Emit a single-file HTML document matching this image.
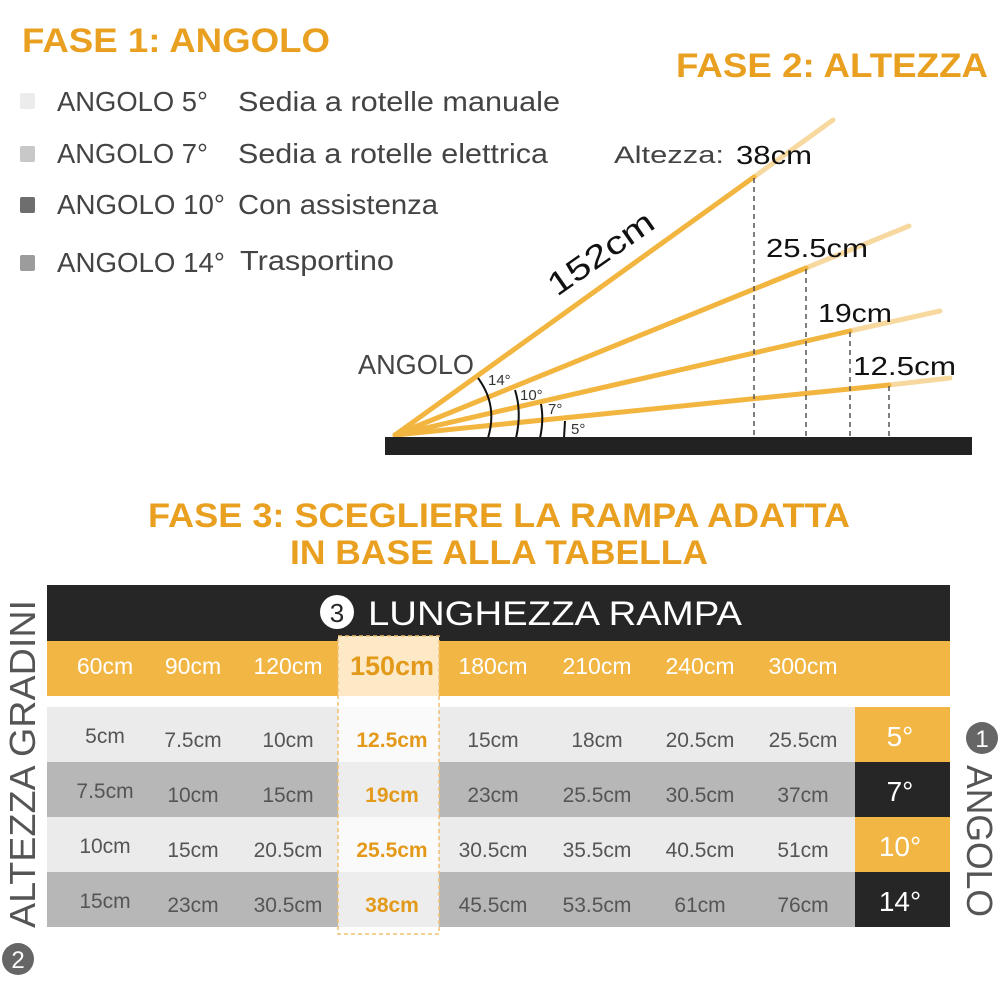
<!DOCTYPE html>
<html><head><meta charset="utf-8"><style>body{margin:0;background:#fff}svg{display:block}</style></head><body>
<svg width="1000" height="1000" viewBox="0 0 1000 1000" xmlns="http://www.w3.org/2000/svg" font-family="Liberation Sans, sans-serif">
<rect width="1000" height="1000" fill="#fff"/>
<g fill="#e9a020" font-weight="bold" font-size="34">
<text x="22" y="52" textLength="308" lengthAdjust="spacingAndGlyphs">FASE 1: ANGOLO</text>
<text x="676" y="77" textLength="312" lengthAdjust="spacingAndGlyphs">FASE 2: ALTEZZA</text>
<text x="148" y="527" textLength="702" lengthAdjust="spacingAndGlyphs">FASE 3: SCEGLIERE LA RAMPA ADATTA</text>
<text x="290" y="564" textLength="418" lengthAdjust="spacingAndGlyphs">IN BASE ALLA TABELLA</text>
</g>
<rect x="20" y="93" width="15" height="16" rx="2" fill="#ececec"/>
<rect x="20" y="146" width="15" height="16" rx="2" fill="#c8c8c8"/>
<rect x="20" y="197" width="15" height="16" rx="2" fill="#6e6e6e"/>
<rect x="20" y="255" width="15" height="16" rx="2" fill="#9c9c9c"/>
<g fill="#444" font-size="28">
<text x="57" y="111" textLength="151" lengthAdjust="spacingAndGlyphs">ANGOLO 5°</text>
<text x="238" y="111" textLength="322" lengthAdjust="spacingAndGlyphs">Sedia a rotelle manuale</text>
<text x="57" y="163" textLength="151" lengthAdjust="spacingAndGlyphs">ANGOLO 7°</text>
<text x="238" y="163" textLength="310" lengthAdjust="spacingAndGlyphs">Sedia a rotelle elettrica</text>
<text x="57" y="214" textLength="168" lengthAdjust="spacingAndGlyphs">ANGOLO 10°</text>
<text x="238" y="214" textLength="200" lengthAdjust="spacingAndGlyphs">Con assistenza</text>
<text x="57" y="272" textLength="168" lengthAdjust="spacingAndGlyphs">ANGOLO 14°</text>
<text x="240" y="270" textLength="154" lengthAdjust="spacingAndGlyphs">Trasportino</text>
<text x="358" y="374" textLength="116" lengthAdjust="spacingAndGlyphs">ANGOLO</text>
<text x="614" y="163" font-size="24" textLength="110" lengthAdjust="spacingAndGlyphs">Altezza:</text>
</g>
<!-- ramp lines -->
<g stroke-linecap="round" stroke-width="5">
<line x1="754" y1="177" x2="833" y2="120" stroke="#f7d9a0"/>
<line x1="806" y1="268" x2="909" y2="226" stroke="#f7d9a0"/>
<line x1="850" y1="331" x2="940" y2="311" stroke="#f7d9a0"/>
<line x1="889" y1="385" x2="950" y2="378" stroke="#f7d9a0"/>
<line x1="395" y1="435" x2="754" y2="177" stroke="#f2b53f"/>
<line x1="395" y1="435" x2="806" y2="268" stroke="#f2b53f"/>
<line x1="395" y1="435" x2="850" y2="331" stroke="#f2b53f"/>
<line x1="395" y1="435" x2="889" y2="385" stroke="#f2b53f"/>
</g>
<g stroke="#555" stroke-width="1.5" stroke-dasharray="5,4">
<line x1="754" y1="178" x2="754" y2="437"/>
<line x1="806" y1="269" x2="806" y2="437"/>
<line x1="850" y1="332" x2="850" y2="437"/>
<line x1="889" y1="386" x2="889" y2="437"/>
</g>
<g stroke="#111" stroke-width="2" fill="none">
<path d="M478 378 Q498 405 488 438"/>
<path d="M515 390 Q522 412 516 438"/>
<path d="M541 404 Q544 420 540 438"/>
<path d="M565 421 L564 438"/>
</g>
<g fill="#333" font-size="15">
<text x="488" y="385">14°</text>
<text x="520" y="400">10°</text>
<text x="548" y="414">7°</text>
<text x="571" y="434">5°</text>
</g>
<rect x="385" y="437" width="587" height="18" fill="#222"/>
<g fill="#111" font-size="26">
<text x="736" y="164" textLength="76" lengthAdjust="spacingAndGlyphs">38cm</text>
<text x="766" y="257" textLength="102" lengthAdjust="spacingAndGlyphs">25.5cm</text>
<text x="818" y="322" textLength="74" lengthAdjust="spacingAndGlyphs">19cm</text>
<text x="853" y="375" textLength="103" lengthAdjust="spacingAndGlyphs">12.5cm</text>
<text transform="translate(557,297) rotate(-35)" font-size="32" textLength="122" lengthAdjust="spacingAndGlyphs">152cm</text>
</g>
<!-- table -->
<rect x="47" y="585" width="903" height="56" fill="#262626"/>
<circle cx="337" cy="612" r="17" fill="#fff"/>
<text x="337" y="622" font-size="26" fill="#262626" text-anchor="middle">3</text>
<text x="368" y="625" font-size="34" fill="#fff" textLength="374" lengthAdjust="spacingAndGlyphs">LUNGHEZZA RAMPA</text>
<rect x="47" y="641" width="903" height="55" fill="#f2b644"/>
<rect x="47" y="707" width="808" height="55" fill="#ebebeb"/>
<rect x="47" y="762" width="808" height="55" fill="#b7b7b7"/>
<rect x="47" y="817" width="808" height="55" fill="#ebebeb"/>
<rect x="47" y="872" width="808" height="55" fill="#b7b7b7"/>
<rect x="855" y="707" width="95" height="55" fill="#f2b644"/>
<rect x="855" y="762" width="95" height="55" fill="#262626"/>
<rect x="855" y="817" width="95" height="55" fill="#f2b644"/>
<rect x="855" y="872" width="95" height="55" fill="#262626"/>
<rect x="338" y="636" width="101" height="60" fill="#fde9c6"/>
<rect x="338" y="707" width="101" height="220" fill="#fff" opacity="0.75"/>
<rect x="338" y="636" width="101" height="298" fill="none" stroke="#f0c070" stroke-width="1.5" stroke-dasharray="4,3"/>
<g fill="#fff" font-size="23" text-anchor="middle">
<text x="105" y="674">60cm</text><text x="193" y="674">90cm</text><text x="288" y="674">120cm</text>
<text x="493" y="674">180cm</text><text x="597" y="674">210cm</text><text x="700" y="674">240cm</text><text x="803" y="674">300cm</text>
<text x="900" y="746" font-size="28">5°</text><text x="900" y="801" font-size="28">7°</text>
<text x="900" y="856" font-size="28">10°</text><text x="900" y="911" font-size="28">14°</text>
</g>
<text x="392" y="675" font-size="27" font-weight="bold" fill="#e39a1a" text-anchor="middle">150cm</text>
<g fill="#555" font-size="21" text-anchor="middle">
<text x="105" y="743">5cm</text><text x="193" y="747">7.5cm</text><text x="288" y="747">10cm</text><text x="493" y="747">15cm</text><text x="597" y="747">18cm</text><text x="700" y="747">20.5cm</text><text x="803" y="747">25.5cm</text>
<text x="105" y="798">7.5cm</text><text x="193" y="802">10cm</text><text x="288" y="802">15cm</text><text x="493" y="802">23cm</text><text x="597" y="802">25.5cm</text><text x="700" y="802">30.5cm</text><text x="803" y="802">37cm</text>
<text x="105" y="853">10cm</text><text x="193" y="857">15cm</text><text x="288" y="857">20.5cm</text><text x="493" y="857">30.5cm</text><text x="597" y="857">35.5cm</text><text x="700" y="857">40.5cm</text><text x="803" y="857">51cm</text>
<text x="105" y="908">15cm</text><text x="193" y="912">23cm</text><text x="288" y="912">30.5cm</text><text x="493" y="912">45.5cm</text><text x="597" y="912">53.5cm</text><text x="700" y="912">61cm</text><text x="803" y="912">76cm</text>
</g>
<g fill="#e39a1a" font-size="21" font-weight="bold" text-anchor="middle">
<text x="392" y="747">12.5cm</text><text x="392" y="802">19cm</text><text x="392" y="857">25.5cm</text><text x="392" y="912">38cm</text>
</g>
<text transform="translate(35,928) rotate(-90)" font-size="36" fill="#555" textLength="328" lengthAdjust="spacingAndGlyphs">ALTEZZA GRADINI</text>
<circle cx="18" cy="959" r="16" fill="#666"/>
<text x="18" y="968" font-size="24" fill="#fff" text-anchor="middle">2</text>
<circle cx="982" cy="738" r="16" fill="#666"/>
<text x="982" y="747" font-size="24" fill="#fff" text-anchor="middle">1</text>
<text transform="translate(967,765) rotate(90)" font-size="36" fill="#555" textLength="152" lengthAdjust="spacingAndGlyphs">ANGOLO</text>
</svg>
</body></html>
